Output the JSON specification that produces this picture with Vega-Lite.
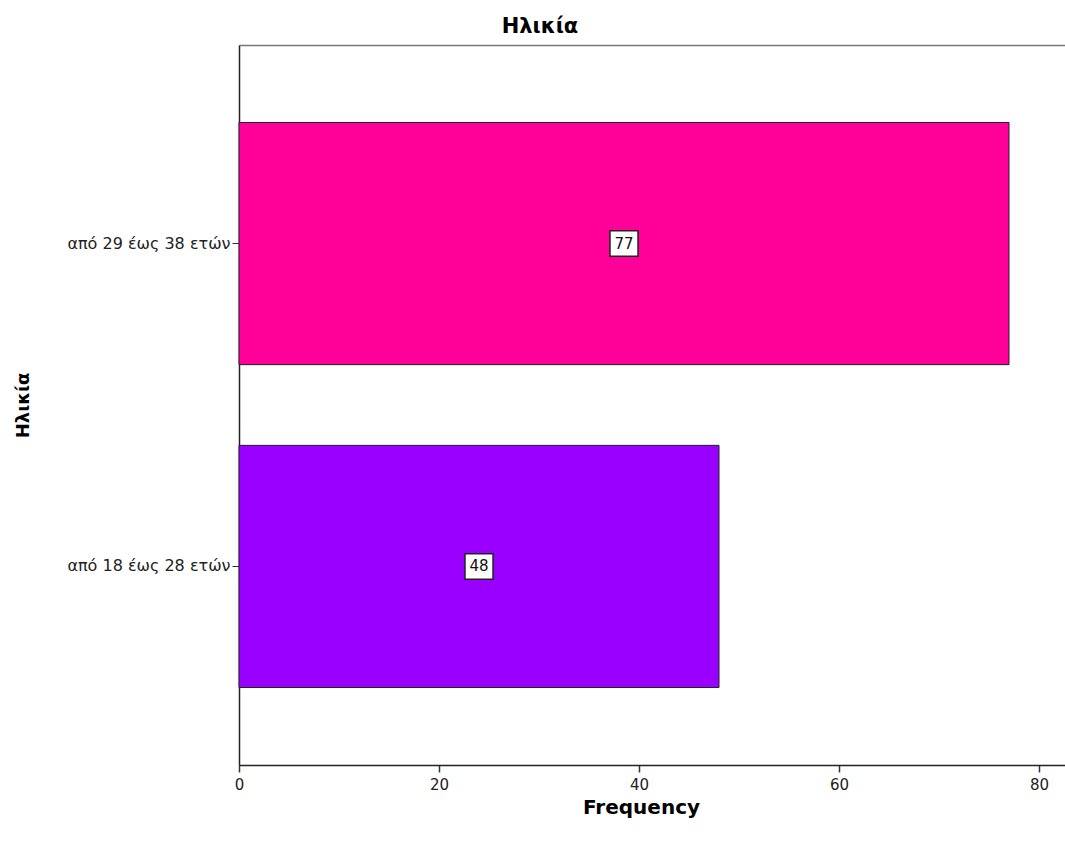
{
  "$schema": "https://vega.github.io/schema/vega-lite/v6.json",
  "autosize": {"type": "none"},
  "width": 826,
  "height": 720,
  "padding": {"left": 239, "top": 45, "right": 0, "bottom": 80},
  "background": "white",
  "title": {
    "text": "Ηλικία",
    "anchor": "middle",
    "frame": "bounds",
    "font": "DejaVu Sans",
    "fontSize": 21,
    "fontWeight": "bold",
    "color": "#000000",
    "offset": 8
  },
  "config": {
    "view": {"stroke": null},
    "font": "DejaVu Sans"
  },
  "data": {
    "values": [
      {"age": "από 29 έως 38 ετών", "count": 77},
      {"age": "από 18 έως 28 ετών", "count": 48}
    ]
  },
  "transform": [
    {"calculate": "datum.count / 2", "as": "mid"}
  ],
  "encoding": {
    "y": {
      "field": "age",
      "type": "nominal",
      "sort": ["από 29 έως 38 ετών", "από 18 έως 28 ετών"],
      "scale": {"paddingInner": 0.25, "paddingOuter": 0.24},
      "axis": {
        "title": "Ηλικία",
        "titleFont": "DejaVu Sans",
        "titleFontSize": 18,
        "titleFontWeight": "bold",
        "titleColor": "#000000",
        "titlePadding": 34,
        "labelFont": "DejaVu Sans",
        "labelFontSize": 16,
        "labelColor": "#222222",
        "labelPadding": 2,
        "tickSize": 7,
        "tickColor": "#333333",
        "domainColor": "#222222",
        "domainWidth": 1.5
      }
    }
  },
  "layer": [
    {
      "mark": {"type": "bar", "stroke": "#222222", "strokeWidth": 1},
      "encoding": {
        "x": {
          "field": "count",
          "type": "quantitative",
          "scale": {"domain": [0, 82.6], "nice": false, "zero": true},
          "axis": {
            "title": "Frequency",
            "titleFont": "DejaVu Sans",
            "titleFontSize": 20,
            "titleFontWeight": "bold",
            "titleColor": "#000000",
            "titlePadding": 5,
            "titleX": 402,
            "values": [0, 20, 40, 60, 80],
            "grid": false,
            "labelFlush": false,
            "labelFont": "DejaVu Sans",
            "labelFontSize": 15,
            "labelColor": "#222222",
            "labelPadding": 5,
            "tickSize": 7,
            "tickColor": "#333333",
            "tickWidth": 1.5,
            "domainColor": "#222222",
            "domainWidth": 1.5
          }
        },
        "color": {
          "field": "age",
          "type": "nominal",
          "scale": {
            "domain": ["από 29 έως 38 ετών", "από 18 έως 28 ετών"],
            "range": ["#FF0099", "#9900FF"]
          },
          "legend": null
        }
      }
    },
    {
      "mark": {"type": "rule", "opacity": 0},
      "encoding": {
        "x": {
          "field": "count",
          "type": "quantitative",
          "axis": {
            "orient": "top",
            "title": null,
            "labels": false,
            "ticks": false,
            "grid": false,
            "domainColor": "#777777",
            "domainWidth": 1.5
          }
        }
      }
    },
    {
      "mark": {
        "type": "point",
        "shape": "M-1.1,-1 L1.1,-1 L1.1,1 L-1.1,1 Z",
        "size": 650,
        "filled": true,
        "fill": "white",
        "stroke": "#222222",
        "strokeWidth": 1.5,
        "opacity": 1
      },
      "encoding": {
        "x": {"field": "mid", "type": "quantitative", "axis": null}
      }
    },
    {
      "mark": {
        "type": "text",
        "font": "DejaVu Sans",
        "fontSize": 15,
        "color": "#111111",
        "align": "center",
        "baseline": "middle"
      },
      "encoding": {
        "x": {"field": "mid", "type": "quantitative", "axis": null},
        "text": {"field": "count", "type": "quantitative"}
      }
    }
  ],
  "resolve": {"axis": {"x": "independent"}}
}
